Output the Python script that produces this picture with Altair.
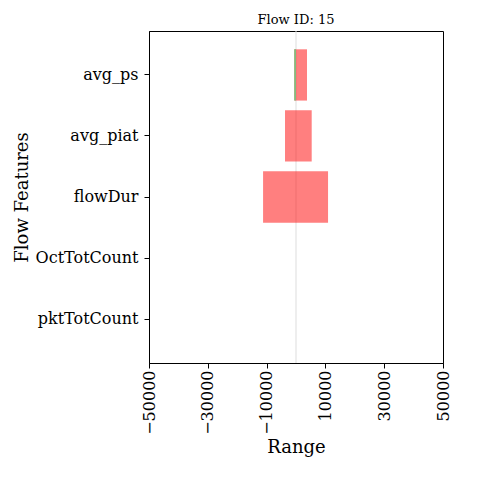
import altair as alt
import pandas as pd

features = ["avg_ps", "avg_piat", "flowDur", "OctTotCount", "pktTotCount"]
red_lo = [-600, -3740, -11200, 0, 0]
red_hi = [3740, 5340, 10900, 0, 0]
green_lo = [-600, 0, 0, 0, 0]
green_hi = [0, 0, 0, 0, 0]

df = pd.DataFrame({"feature": features, "rlo": red_lo, "rhi": red_hi,
                   "glo": green_lo, "ghi": green_hi})

font = "DejaVu Serif"
x = alt.X("rlo:Q", title="Range",
          scale=alt.Scale(domain=[-50000, 50000], nice=False),
          axis=alt.Axis(values=list(range(-50000, 50001, 10000)), labelAngle=-90,
                        format="d", labelOverlap=False, labelFontSize=16,
                        titleFontSize=18, titleFontWeight="normal", grid=False,
                        labelFont=font, titleFont=font, labelColor="black",
                        titleColor="black", domainColor="black", tickColor="black"))
y = alt.Y("feature:N", title="Flow Features", sort=features,
          scale=alt.Scale(paddingInner=0.16, paddingOuter=0.3),
          axis=alt.Axis(labelFontSize=16, titleFontSize=18, titleFontWeight="normal",
                        labelFont=font, titleFont=font, labelColor="black",
                        titleColor="black", domainColor="black", tickColor="black",
                        labelPadding=6))

base = alt.Chart(df)
red = base.mark_bar(color="red", opacity=0.5).encode(x=x, x2="rhi:Q", y=y)
green = base.mark_bar(color="#7fbf7f").encode(
    x="glo:Q", x2="ghi:Q", y=alt.Y("feature:N", sort=features))
zero = alt.Chart(pd.DataFrame({"z": [0]})).mark_rule(color="#dddddd").encode(x="z:Q")

chart = (
    alt.layer(zero, red, green)
    .properties(width=294, height=332,
                title=alt.TitleParams("Flow ID: 15", font=font, fontSize=13,
                                      fontWeight="normal", color="black"))
    .configure_view(stroke="black")
)
chart.save("out.html", embed_options={"renderer": "svg", "actions": False})
